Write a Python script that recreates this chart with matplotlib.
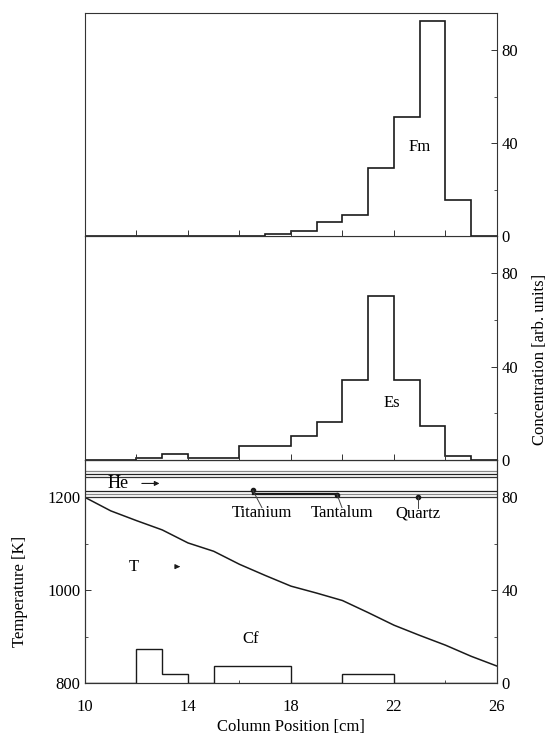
import numpy as np
import matplotlib
matplotlib.use("Agg")
import matplotlib.pyplot as plt

plt.rcParams['font.family'] = ['Liberation Serif', 'DejaVu Serif']
plt.rcParams['font.size'] = 12

# ---- data ----
edges = list(range(10, 27))  # 1 cm bins, 10..26 cm
fm_vals = [0, 0, 0, 0, 0, 0, 0, 1.1, 2.3, 5.9, 9.0, 29.1, 51.3, 92.5, 15.5, 0]
es_vals = [0, 0, 0.7, 2.4, 0.6, 0.6, 5.7, 5.7, 10.0, 16.0, 34.3, 70.3, 34.3, 14.7, 1.4, 0]
cf_vals = [0, 0, 14.9, 4.2, 0, 7.5, 7.5, 7.5, 0, 0, 4.2, 4.2, 0, 0, 0, 0]

temp_pos = [10, 11, 12, 13, 14, 15, 16, 17, 18, 19, 20, 21, 22, 23, 24, 25, 26]
temp_vals = [1200, 1171, 1150, 1130, 1102, 1084, 1056, 1032, 1009, 994, 978,
             952, 925, 903, 882, 858, 837]

tube_walls = [1256, 1251, 1243.5, 1213.5, 1208, 1200.6]
wall_colors = ['#888888', '#222222', '#333333', '#222222', '#888888', '#333333']

materials = ['Titanium', 'Tantalum', 'Quartz']
mat_points = [(16.52, 1215), (19.79, 1206), (22.93, 1200.6)]
mat_text = [(16.87, 1166), (19.98, 1166), (22.93, 1166)]

xticks = [10, 14, 18, 22, 26]
conc_ticks = [0, 40, 80]
temp_ticks = [800, 1000, 1200]

LC = '#1a1a1a'
SC = '#333333'

fig = plt.figure(figsize=(5.53, 7.37), dpi=100)
L, W = 0.1537, 0.745
H = 0.3033
B0 = 0.0729
ax_bot = fig.add_axes([L, B0, W, H])
ax_mid = fig.add_axes([L, B0 + H, W, H])
ax_top = fig.add_axes([L, B0 + 2 * H, W, H])


def style(ax):
    for s in ax.spines.values():
        s.set_color(SC)
        s.set_linewidth(0.8)
    ax.tick_params(direction='in', length=4, width=0.7, color=SC)
    ax.tick_params(which='minor', direction='in', length=2.5, width=0.6, color=SC)


for ax, vals in ((ax_top, fm_vals), (ax_mid, es_vals)):
    ax.stairs(vals, edges, color=LC, lw=1.2)
    ax.set_xlim(10, 26)
    ax.set_ylim(0, 96)
    ax.yaxis.tick_right()
    ax.set_yticks(conc_ticks)
    ax.set_yticks([20, 60], minor=True)
    ax.set_xticks(np.arange(10, 27, 2))
    ax.tick_params(axis='x', labelbottom=False, bottom=True, top=False)
    style(ax)

ax_top.text(23.0, 38.4, 'Fm', ha='center', va='center')
ax_mid.text(21.9, 24.3, 'Es', ha='center', va='center')
ax_mid.yaxis.set_label_position('right')
ax_mid.set_ylabel('Concentration [arb. units]')
ax_mid.yaxis.set_label_coords(1.085, 0.45)

# bottom panel
T0, T1 = 800, 1281
ax_bot.set_xlim(10, 26)
ax_bot.set_ylim(T0, T1)
ax_bot.plot(temp_pos, temp_vals, color=LC, lw=1.1)
for yv, c in zip(tube_walls, wall_colors):
    ax_bot.axhline(yv, color=c, lw=0.9)
ax_bot.plot([mat_points[0][0], mat_points[1][0]], [1208, 1208], color=LC, lw=1.6)
for name, (px, py), (tx, ty) in zip(materials, mat_points, mat_text):
    ax_bot.plot([px], [py], 'o', color=LC, ms=3)
    ax_bot.plot([px, tx], [py, ty + 12], color='#444444', lw=0.7)
    ax_bot.text(tx, ty, name, ha='center', va='center')

ax_bot.text(11.3, 1230, 'He', ha='center', va='center', fontsize=13)
ax_bot.annotate('', xy=(13.0, 1230), xytext=(12.1, 1230),
                arrowprops=dict(arrowstyle='-|>', color=LC, lw=0.8,
                                mutation_scale=7))
ax_bot.text(11.9, 1051, 'T', ha='center', va='center')
ax_bot.annotate('', xy=(13.8, 1051), xytext=(13.5, 1051),
                arrowprops=dict(arrowstyle='-|>', color=LC, lw=0.8,
                                mutation_scale=7))

ax_bot.set_xticks(xticks)
ax_bot.set_xticks(np.arange(10, 27, 2), minor=True)
ax_bot.set_yticks(temp_ticks)
ax_bot.set_yticks([900, 1100], minor=True)
ax_bot.set_xlabel('Column Position [cm]', labelpad=3)
ax_bot.set_ylabel('Temperature [K]')
ax_bot.yaxis.set_label_coords(-0.138, 0.41)
ax_bot.tick_params(axis='x', pad=11)
style(ax_bot)

ax_r = ax_bot.twinx()
ax_r.set_ylim(0, (T1 - T0) / 5.0)
ax_r.stairs(cf_vals, edges, color=LC, lw=1.0)
ax_r.set_yticks(conc_ticks)
ax_r.set_yticks([20, 60], minor=True)
ax_r.text(16.44, 19.1, 'Cf', ha='center', va='center')
style(ax_r)

fig.savefig('out.png', dpi=100)
